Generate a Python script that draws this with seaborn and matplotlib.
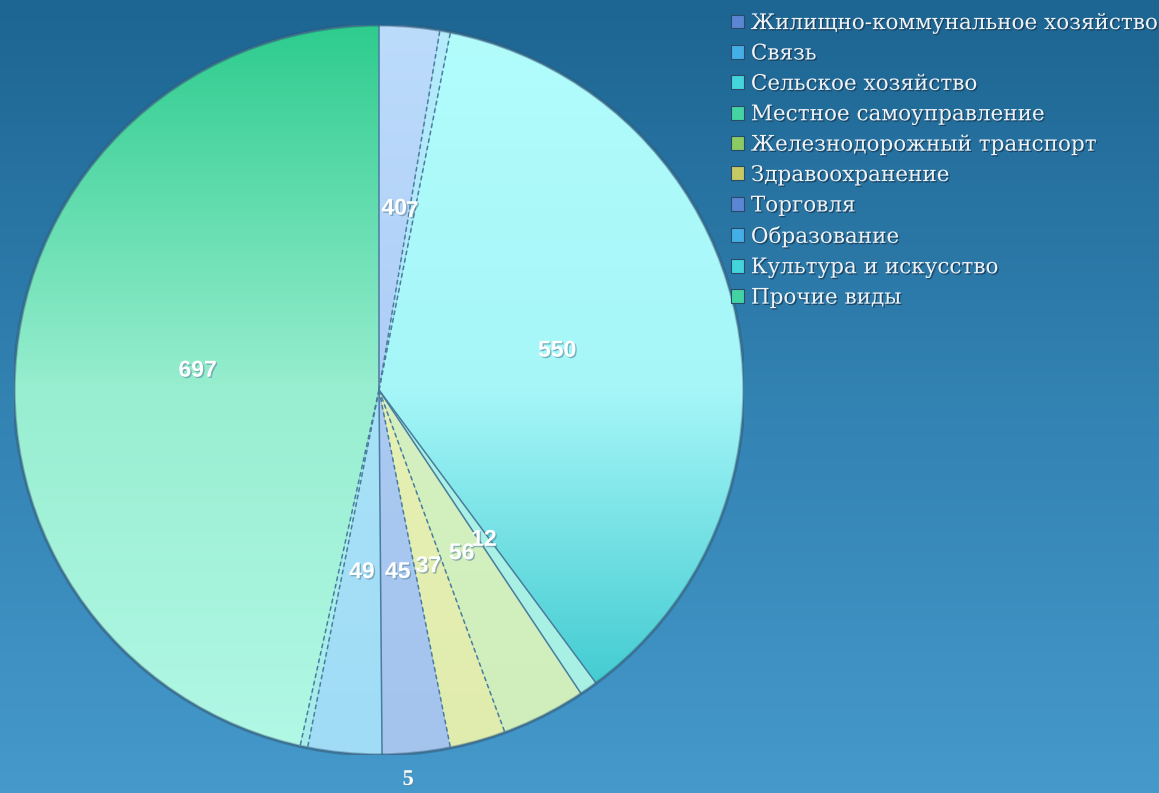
import numpy as np
import matplotlib
matplotlib.use("Agg")
import matplotlib.pyplot as plt
from matplotlib.patches import Patch, Circle
import matplotlib.patheffects as pe
import seaborn as sns

# ---- data ----
categories = ["Жилищно-коммунальное хозяйство", "Связь", "Сельское хозяйство",
              "Местное самоуправление", "Железнодорожный транспорт", "Здравоохранение",
              "Торговля", "Образование", "Культура и искусство", "Прочие виды"]
values = [40, 7, 550, 12, 56, 37, 45, 49, 5, 697]

# slice fill gradients (top, middle, bottom)
slice_grad = [
    ["#bcdcfc", "#aecdf6", "#a4c4f0"],
    ["#b4ecfc", "#aee6f8", "#a6e0f6"],
    ["#b2fcfc", "#a6f6f8", "#2cc2c8"],
    ["#aef4ea", "#aaf2e6", "#a8f0e4"],
    ["#d8f4c8", "#d4f0c0", "#d0eebc"],
    ["#ecf4b8", "#e6f0b2", "#e0ecae"],
    ["#b0d2f6", "#aacaf2", "#a4c4ee"],
    ["#b0e8fa", "#a8e2f8", "#a0dcf6"],
    ["#b2f4f2", "#acf0ee", "#a8ecea"],
    ["#2ecc8e", "#98eed0", "#b2f8e6"],
]
dashed = [False, True, False, False, False, True, False, False, True, False]
legend_colors = ["#5b86d4", "#44aee6", "#44d4dc", "#44d4a4", "#8cca64",
                 "#c6c864", "#5b86d4", "#44aee6", "#44d4dc", "#44d4a4"]

sns.set_theme(style="white")
plt.rcParams["font.family"] = ["DejaVu Serif"]

W, H = 1159, 793
fig = plt.figure(figsize=(W / 100, H / 100), dpi=100)

# background gradient
bg = fig.add_axes([0, 0, 1, 1], zorder=0)
bg_cmap = sns.blend_palette(["#1d6592", "#3282b2", "#4599cb"], as_cmap=True)
bg.imshow(np.linspace(0, 1, 256).reshape(-1, 1), aspect="auto", cmap=bg_cmap,
          extent=[0, 1, 0, 1], origin="upper")
bg.set_axis_off()

# pie axes
cx, cy, R = 379, 390, 365
ax = fig.add_axes([(cx - R) / W, (H - cy - R) / H, 2 * R / W, 2 * R / H], zorder=1)
ax.set_facecolor("none")

wedges, texts = ax.pie(values, startangle=90, counterclock=False, radius=1,
                       colors=[g[1] for g in slice_grad],
                       wedgeprops=dict(edgecolor="none", linewidth=0))
ax.set_xlim(-1, 1)
ax.set_ylim(-1, 1)
ax.set_aspect("equal")
ax.set_axis_off()

grad = np.linspace(0, 1, 256).reshape(-1, 1)
for w, g in zip(wedges, slice_grad):
    cmap = sns.blend_palette(g, as_cmap=True)
    im = ax.imshow(grad, cmap=cmap, extent=[-1, 1, -1, 1], origin="upper",
                   aspect="auto", zorder=2)
    im.set_clip_path(w)
    w.set_facecolor("none")

# outer rim
ax.add_patch(Circle((0, 0), 1, facecolor="none", edgecolor="#3f6f90", linewidth=1.1, zorder=4,
                    path_effects=[pe.withStroke(linewidth=2.5, foreground=(0.15, 0.3, 0.4, 0.35))]))

# radial boundaries
total = sum(values)
n = len(values)
cum = np.cumsum([0] + values[:-1])
for k in range(n):
    ang = np.deg2rad(90 - cum[k] / total * 360)
    is_dash = dashed[k] or dashed[k - 1]
    ax.plot([0, np.cos(ang)], [0, np.sin(ang)], color="#4a7c9e", linewidth=1.1,
            linestyle=(0, (3, 2)) if is_dash else "-", zorder=3)

# value labels
shadow = [pe.withSimplePatchShadow(offset=(1, -1), shadow_rgbFace="#5a8aa0", alpha=0.6)]
for i, v in enumerate(values):
    if v == 5:
        ax.text(0.08, -1.068, str(v), ha="center", va="center", color="white",
                fontsize=16, fontweight="bold", family="Liberation Serif",
                path_effects=shadow, clip_on=False, zorder=10)
        continue
    ang = np.deg2rad(90 - (cum[i] + v / 2) / total * 360)
    ax.text(0.5 * np.cos(ang), 0.5 * np.sin(ang), str(v), ha="center", va="center",
            color="white", fontsize=16.5, fontweight="bold", family="Liberation Sans",
            path_effects=shadow, zorder=10)

# legend
handles = [Patch(facecolor=c, edgecolor="#2a4a6a", linewidth=0.8) for c in legend_colors]
leg = fig.legend(handles, categories, loc="upper left",
                 bbox_to_anchor=(716 / W, 1 + 3 / H), frameon=False,
                 fontsize=15.5, handlelength=0.62, handleheight=0.62,
                 handletextpad=0.3, labelspacing=0.39, borderpad=0.2)
for t in leg.get_texts():
    t.set_color("#f0f3f6")
    t.set_path_effects([pe.withSimplePatchShadow(offset=(1, -1), shadow_rgbFace="#1a3a55", alpha=0.8)])

fig.savefig("out.png", dpi=100)
